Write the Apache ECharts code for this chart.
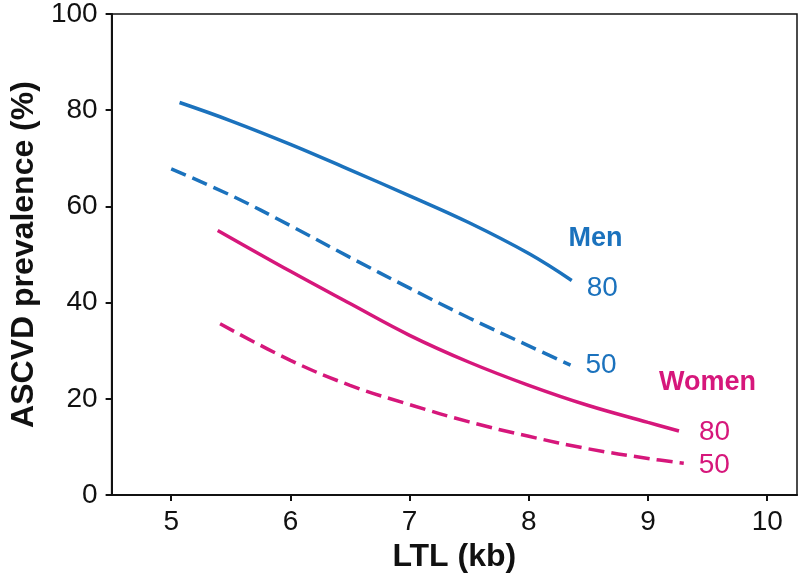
<!DOCTYPE html>
<html>
<head>
<meta charset="utf-8">
<script src="https://cdn.jsdelivr.net/npm/echarts@6/dist/echarts.min.js"></script>
<style>html,body{margin:0;padding:0;background:#fff}#c{width:800px;height:581px}</style>
</head>
<body>
<div id="c"></div>
<script>
var xTickValues = [5, 6, 7, 8, 9, 10];
var yTickValues = [0, 20, 40, 60, 80, 100];

var men80X = [5.07, 5.5, 6, 6.5, 7, 7.5, 8, 8.36];
var men80Y = [81.6, 77.8, 72.9, 67.6, 62.2, 56.6, 50.2, 44.6];
var men50X = [5.0, 5.5, 6, 6.5, 7, 7.5, 8, 8.35];
var men50Y = [67.8, 62.3, 56.0, 49.4, 43.0, 36.8, 31.0, 27.0];
var women80X = [5.39, 6, 6.5, 7, 7.5, 8, 8.5, 9, 9.26];
var women80Y = [55.0, 46.5, 39.8, 33.2, 27.6, 22.8, 18.6, 15.1, 13.3];
var women50X = [5.41, 6, 6.5, 7, 7.5, 8, 8.5, 9, 9.3];
var women50Y = [35.6, 28.0, 22.8, 18.8, 15.2, 12.2, 9.6, 7.6, 6.6];

var groupLabels = [
  { text: 'Men', x: 8.56, y: 53.4, color: '#1b72bd' },
  { text: 'Women', x: 9.5, y: 23.3, color: '#d6177b' }
];

var BLUE = '#1b72bd';
var PINK = '#d6177b';
var FONT = '"Liberation Sans", Arial, Helvetica, sans-serif';

function pairs(xs, ys) { return xs.map(function (x, i) { return [x, ys[i]]; }); }

function lineSeries(name, xs, ys, color, dashed, offset) {
  return {
    type: 'line', name: name, data: pairs(xs, ys), smooth: 0.4,
    showSymbol: false, symbol: 'none', silent: true,
    lineStyle: { color: color, width: 3.5, type: dashed ? [16, 7] : 'solid', cap: 'butt', opacity: 1 },
    endLabel: {
      show: true, formatter: name.split('-')[1], color: color,
      fontFamily: FONT, fontSize: 28, offset: offset
    }
  };
}

var chart = echarts.init(document.getElementById('c'), null, { renderer: 'canvas' });
chart.setOption({
  animation: false,
  backgroundColor: '#fff',
  grid: { left: 101, right: 3, top: 10, bottom: 86, show: true, borderColor: '#111', borderWidth: 1.5, backgroundColor: 'transparent' },
  xAxis: {
    type: 'value', min: 4.5, max: 10.25,
    name: 'LTL (kb)', nameLocation: 'middle', nameGap: 40,
    nameTextStyle: { fontFamily: FONT, fontSize: 32, fontWeight: 'bold', color: '#111' },
    axisLine: { show: true, onZero: false, lineStyle: { color: '#111', width: 2 } },
    axisTick: { show: true, inside: false, length: 6, lineStyle: { color: '#111', width: 2 }, customValues: xTickValues },
    axisLabel: { fontFamily: FONT, fontSize: 28, color: '#111', margin: 13, customValues: xTickValues },
    splitLine: { show: false }
  },
  yAxis: {
    type: 'value', min: 0, max: 100, interval: 20,
    name: 'ASCVD prevalence (%)', nameLocation: 'middle', nameGap: 71, nameRotate: 90,
    nameTextStyle: { fontFamily: FONT, fontSize: 32, fontWeight: 'bold', color: '#111' },
    axisLine: { show: true, onZero: false, lineStyle: { color: '#111', width: 2 } },
    axisTick: { show: true, inside: false, length: 6, lineStyle: { color: '#111', width: 2 }, customValues: yTickValues },
    axisLabel: { fontFamily: FONT, fontSize: 28, color: '#111', margin: 14, customValues: yTickValues },
    splitLine: { show: false }
  },
  series: [
    lineSeries('Men-80', men80X, men80Y, BLUE, false, [7, 8]),
    lineSeries('Men-50', men50X, men50Y, BLUE, true, [7, 0]),
    lineSeries('Women-80', women80X, women80Y, PINK, false, [12, 1]),
    lineSeries('Women-50', women50X, women50Y, PINK, true, [7, 2]),
    {
      type: 'scatter', silent: true, symbolSize: 0,
      itemStyle: { opacity: 1 },
      data: groupLabels.map(function (g) {
        return {
          value: [g.x, g.y],
          label: { show: true, position: 'inside', formatter: g.text, color: g.color, opacity: 1, fontFamily: FONT, fontSize: 27, fontWeight: 'bold' }
        };
      })
    }
  ]
});
</script>
</body>
</html>
